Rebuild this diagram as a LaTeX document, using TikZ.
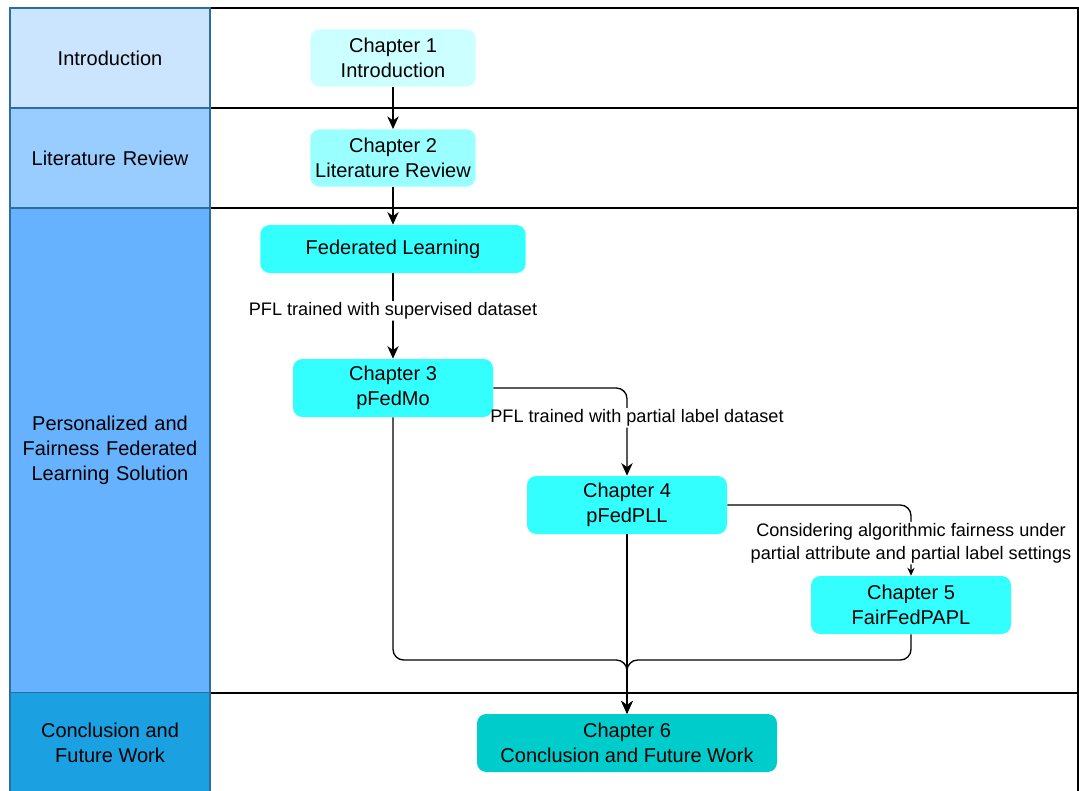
\documentclass[tikz,border=0pt]{standalone}
\usepackage{fontspec}
\setmainfont{Liberation Sans}
\usetikzlibrary{arrows.meta}

\definecolor{laneone}{HTML}{CCE5FF}
\definecolor{lanetwo}{HTML}{99CCFF}
\definecolor{lanethree}{HTML}{66B2FF}
\definecolor{lanefour}{HTML}{1BA1E2}
\definecolor{laneline}{HTML}{2C6E9E}
\definecolor{chapone}{HTML}{CCFFFF}
\definecolor{chaptwo}{HTML}{99FFFF}
\definecolor{chapmid}{HTML}{33FFFF}
\definecolor{chapsix}{HTML}{00CCCC}

\begin{document}
\begin{tikzpicture}[x=0.75pt,y=-0.75pt,
	lane/.style={draw=laneline, line width=0.8pt, minimum width=150pt, inner sep=0pt,
		text width=145pt, align=center, font=\fontsize{15}{18.75}\selectfont},
	chapter/.style={rounded corners=7pt, inner sep=0pt, align=center,
		font=\fontsize{15}{18.75}\selectfont},
	flow/.style={line width=1pt, rounded corners=8pt, -{Stealth[length=9.5pt,width=8.5pt,inset=3pt]}},
	lbl/.style={fill=white, inner sep=1pt, align=center, font=\fontsize{13.6}{17.25}\selectfont}]
\useasboundingbox (0,0) rectangle (1079,790);

% rows
\draw[line width=1.1pt] (210,8) rectangle (1078,108);
\draw[line width=1.1pt] (210,108) rectangle (1078,208);
\draw[line width=1.1pt] (210,208) rectangle (1078,693);
\draw[line width=1.1pt] (210,693) rectangle (1078,800);

\node[lane, fill=laneone, minimum height=75pt] (intro) at (110,58) {Introduction};
\node[lane, fill=lanetwo, minimum height=75pt] (review) at (110,158) {Literature Review};
\node[lane, fill=lanethree, minimum height=363.75pt] (solution) at (110,450.5) {Personalized and\\ Fairness Federated\\ Learning Solution};
\node[lane, fill=lanefour, minimum height=80pt] (future) at (110,746) {};
\node[font=\fontsize{15}{18.75}\selectfont, align=center] (futuretext) at (110,743) {Conclusion and\\ Future Work};

% chapters
\node[chapter, fill=chapone, minimum width=124pt, minimum height=43pt] (ch1) at (393,58) {Chapter 1\\ Introduction};
\node[chapter, fill=chaptwo, minimum width=124pt, minimum height=43pt] (ch2) at (393,158) {Chapter 2\\ Literature Review};
\node[chapter, fill=chapmid, minimum width=199pt, minimum height=36pt] (fl) at (393,249) {Federated Learning};
\node[chapter, fill=chapmid, minimum width=150pt, minimum height=43.5pt] (ch3) at (393,388) {Chapter 3\\ pFedMo};
\node[chapter, fill=chapmid, minimum width=150pt, minimum height=43.5pt] (ch4) at (627,505) {Chapter 4\\ pFedPLL};
\node[chapter, fill=chapmid, minimum width=150pt, minimum height=43.5pt] (ch5) at (911,605) {Chapter 5\\ FairFedPAPL};
\node[chapter, fill=chapsix, minimum width=225pt, minimum height=43.5pt] (ch6) at (627,743) {Chapter 6\\ Conclusion and Future Work};

\coordinate (merge) at (627,660);

% links
\draw[flow] (ch1) -- (ch2);
\draw[flow] (ch2) -- (fl);
\draw[flow] (fl) -- node[lbl, pos=0.44] (sup) {PFL trained with supervised dataset} (ch3);
\draw[flow] (ch3.east) -| node[lbl, pos=0.67, xshift=7.5pt] (pll) {PFL trained with partial label dataset} (ch4.north);
\draw[flow, -{Stealth[length=6pt,width=5.5pt,inset=2pt]}] (ch4.east) -| node[lbl, pos=0.77] (fair) {Considering algorithmic fairness under\\ partial attribute and partial label settings} (ch5.north);
\draw[flow] (ch3.south) |- (merge) -- (ch6.north);
\draw[flow] (ch4.south) -- (ch6.north);
\draw[flow] (ch5.south) |- (merge) -- (ch6.north);
\end{tikzpicture}
\end{document}
